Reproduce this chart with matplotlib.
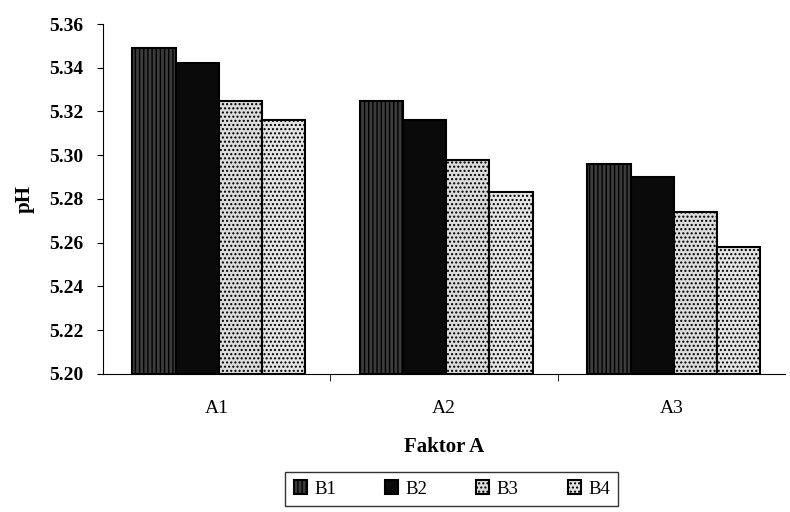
import matplotlib.pyplot as plt
import numpy as np

plt.rcParams['font.family'] = ['Liberation Serif', 'DejaVu Serif']
plt.rcParams['hatch.color'] = '#777777'

faktor_a = ['A1', 'A2', 'A3']
b1 = [5.349, 5.325, 5.296]
b2 = [5.342, 5.316, 5.290]
b3 = [5.325, 5.298, 5.274]
b4 = [5.316, 5.283, 5.258]
series = {'B1': b1, 'B2': b2, 'B3': b3, 'B4': b4}
colors = ['#3c3c3c', '#0a0a0a', '#dcdcdc', '#e4e4e4']
hatches = ['||||', None, '....', '....']

fig = plt.figure(figsize=(7.9, 5.12), dpi=100)
ax = fig.add_axes([0.130, 0.270, 0.864, 0.683])

x = np.arange(len(faktor_a))
w = 0.19
for i, (name, vals) in enumerate(series.items()):
    pos = x + (i - 1.5) * w + 0.01
    ax.bar(pos, np.array(vals) - 5.20, width=w, bottom=5.20, color=colors[i],
           edgecolor='black', linewidth=1.5, hatch=hatches[i], label=name)

ax.set_xlim(-0.5, 2.5)
ax.set_ylim(5.20, 5.36)
yt = np.arange(5.20, 5.361, 0.02)
ax.set_yticks(yt)
ax.set_yticklabels(['%.2f' % v for v in yt], fontsize=14, fontweight='bold')
ax.set_xticks(x)
ax.set_xticklabels(faktor_a, fontsize=14)
ax.set_xticks([0.5, 1.5], minor=True)
ax.tick_params(axis='x', which='major', length=0, pad=19)
ax.tick_params(axis='x', which='minor', length=5, direction='out')
ax.tick_params(axis='y', length=4, direction='out', pad=10)
ax.spines['top'].set_visible(False)
ax.spines['right'].set_visible(False)
ax.set_ylabel('pH', fontsize=15, fontweight='bold', labelpad=10)
ax.set_xlabel('Faktor A', fontsize=15, fontweight='bold', labelpad=14)

leg = fig.legend(loc='center', bbox_to_anchor=(0.572, 0.045), ncol=4, fontsize=13.5,
                 frameon=True, fancybox=False, edgecolor='black', handlelength=0.7,
                 handleheight=0.7, handletextpad=0.4, columnspacing=2.6,
                 borderpad=0.45)
leg.get_frame().set_linewidth(1.0)

fig.savefig('out.png', dpi=100)
